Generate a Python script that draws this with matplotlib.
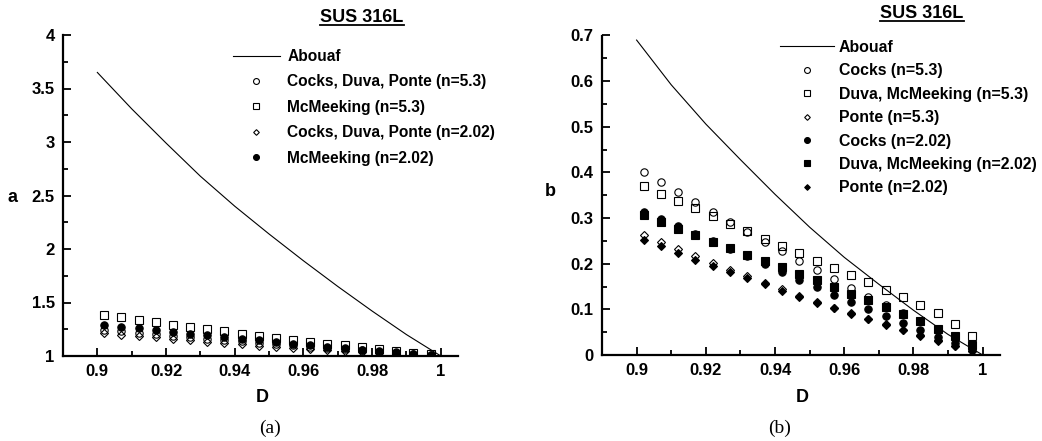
import numpy as np
import matplotlib.pyplot as plt
from matplotlib.lines import Line2D
from matplotlib.ticker import MultipleLocator, FuncFormatter

# relative density at the computed points
D = [0.902, 0.907, 0.912, 0.917, 0.922, 0.927, 0.932, 0.937, 0.942, 0.947,
     0.952, 0.957, 0.962, 0.967, 0.972, 0.977, 0.982, 0.987, 0.992, 0.997]
# relative density for the Abouaf curve
D_line = [0.90, 0.91, 0.92, 0.93, 0.94, 0.95, 0.96, 0.97, 0.98, 0.99, 1.00]

# (a) parameter a
a_abouaf = [3.65, 3.31, 2.99, 2.68, 2.40, 2.14, 1.89, 1.65, 1.42, 1.20, 1.00]
a_cdp53 = [1.245, 1.232, 1.218, 1.204, 1.190, 1.177, 1.163, 1.150, 1.137, 1.124,
           1.111, 1.099, 1.087, 1.075, 1.063, 1.052, 1.041, 1.030, 1.020, 1.010]
a_mcm53 = [1.385, 1.362, 1.338, 1.315, 1.293, 1.272, 1.251, 1.230, 1.210, 1.190,
           1.171, 1.152, 1.134, 1.116, 1.099, 1.082, 1.065, 1.048, 1.032, 1.016]
a_cdp202 = [1.212, 1.200, 1.187, 1.173, 1.160, 1.147, 1.134, 1.122, 1.110, 1.098,
            1.086, 1.075, 1.064, 1.054, 1.044, 1.035, 1.026, 1.017, 1.009, 1.002]
a_mcm202 = [1.292, 1.275, 1.259, 1.243, 1.226, 1.210, 1.194, 1.178, 1.162, 1.146,
            1.131, 1.116, 1.101, 1.087, 1.073, 1.060, 1.047, 1.035, 1.023, 1.011]

# (b) parameter b
b_abouaf = [0.690, 0.592, 0.506, 0.428, 0.352, 0.280, 0.214, 0.155, 0.098, 0.045, 0.0]
b_cocks53 = [0.402, 0.380, 0.357, 0.335, 0.313, 0.291, 0.269, 0.248, 0.227, 0.207,
             0.187, 0.167, 0.147, 0.128, 0.110, 0.092, 0.075, 0.058, 0.040, 0.021]
b_dm53 = [0.370, 0.353, 0.337, 0.321, 0.305, 0.288, 0.271, 0.255, 0.239, 0.223,
          0.207, 0.191, 0.175, 0.159, 0.143, 0.127, 0.110, 0.091, 0.069, 0.042]
b_ponte53 = [0.262, 0.247, 0.232, 0.217, 0.202, 0.187, 0.172, 0.158, 0.144, 0.130,
             0.117, 0.104, 0.091, 0.079, 0.067, 0.055, 0.043, 0.032, 0.020, 0.009]
b_cocks202 = [0.314, 0.298, 0.282, 0.266, 0.250, 0.233, 0.216, 0.199, 0.181, 0.164,
              0.148, 0.132, 0.116, 0.100, 0.085, 0.070, 0.055, 0.040, 0.026, 0.013]
b_dm202 = [0.307, 0.292, 0.277, 0.262, 0.248, 0.234, 0.220, 0.206, 0.192, 0.178,
           0.164, 0.149, 0.134, 0.120, 0.105, 0.090, 0.074, 0.058, 0.041, 0.022]
b_ponte202 = [0.252, 0.238, 0.223, 0.209, 0.196, 0.182, 0.168, 0.155, 0.141, 0.128,
              0.115, 0.103, 0.090, 0.078, 0.066, 0.054, 0.042, 0.031, 0.020, 0.008]

plt.rcParams['font.family'] = ['Liberation Sans', 'DejaVu Sans']
plt.rcParams['font.weight'] = 'bold'

W, H = 1042, 441
fig = plt.figure(figsize=(W / 100, H / 100), dpi=100)


def px(x, y):
    return x / W, 1 - y / H


def style(ax, ylim, ymaj, ymin):
    ax.set_xlim(0.89, 1.005)
    ax.set_ylim(*ylim)
    for s in ['top', 'right']:
        ax.spines[s].set_visible(False)
    for s in ['left', 'bottom']:
        ax.spines[s].set_linewidth(1.6)
    ax.xaxis.set_major_locator(MultipleLocator(0.02))
    ax.xaxis.set_minor_locator(MultipleLocator(0.01))
    ax.yaxis.set_major_locator(MultipleLocator(ymaj))
    ax.yaxis.set_minor_locator(MultipleLocator(ymin))
    fmt = FuncFormatter(lambda v, p: f'{v:g}')
    ax.xaxis.set_major_formatter(fmt)
    ax.yaxis.set_major_formatter(fmt)
    ax.tick_params(which='both', direction='in', width=1.3, labelsize=12, pad=6)
    ax.tick_params(which='major', length=6)
    ax.tick_params(which='minor', length=3.5)


def pts(ax, y, marker, filled, ms, label):
    ax.plot(D, y, linestyle='none', marker=marker, ms=ms, mew=0.8, mec='black',
            mfc='black' if filled else 'none', label=label)


# ---- (a)
ax1 = fig.add_axes([63 / W, 1 - 356 / H, 395 / W, 321 / H])
ax1.plot(D_line, a_abouaf, color='black', lw=0.8, label='Abouaf')
pts(ax1, a_cdp53, 'o', False, 5.3, 'Cocks, Duva, Ponte (n=5.3)')
pts(ax1, a_mcm53, 's', False, 5.3, 'McMeeking (n=5.3)')
pts(ax1, a_cdp202, 'D', False, 3.6, 'Cocks, Duva, Ponte (n=2.02)')
pts(ax1, a_mcm202, 'o', True, 5.3, 'McMeeking (n=2.02)')
style(ax1, (1, 4), 0.5, 0.25)
ax1.legend(loc='upper left', bbox_to_anchor=px(233, 49), bbox_transform=fig.transFigure,
           frameon=False, borderpad=0, borderaxespad=0, fontsize=11.2,
           handlelength=3.0, handletextpad=0.5, labelspacing=0.67, markerscale=0.8)

# ---- (b)
ax2 = fig.add_axes([602 / W, 1 - 355 / H, 398 / W, 319.5 / H])
ax2.plot(D_line, b_abouaf, color='black', lw=0.8, label='Abouaf')
pts(ax2, b_cocks53, 'o', False, 5.3, 'Cocks (n=5.3)')
pts(ax2, b_dm53, 's', False, 5.3, 'Duva, McMeeking (n=5.3)')
pts(ax2, b_ponte53, 'D', False, 3.6, 'Ponte (n=5.3)')
pts(ax2, b_cocks202, 'o', True, 5.3, 'Cocks (n=2.02)')
pts(ax2, b_dm202, 's', True, 5.3, 'Duva, McMeeking (n=2.02)')
pts(ax2, b_ponte202, 'D', True, 3.6, 'Ponte (n=2.02)')
style(ax2, (0, 0.7), 0.1, 0.05)
ax2.legend(loc='upper left', bbox_to_anchor=px(780, 40), bbox_transform=fig.transFigure,
           frameon=False, borderpad=0, borderaxespad=0, fontsize=11.4,
           handlelength=3.4, handletextpad=0.3, labelspacing=0.53, markerscale=0.8)

# axis labels and captions
fig.text(*px(12, 197), 'a', fontsize=13, ha='center', va='center')
fig.text(*px(550, 191), 'b', fontsize=13, ha='center', va='center')
fig.text(*px(262, 397), 'D', fontsize=13, ha='center', va='center')
fig.text(*px(802, 397), 'D', fontsize=13, ha='center', va='center')
fig.text(*px(270, 428), '(a)', fontsize=14, ha='center', va='center',
         family='Liberation Serif', weight='normal')
fig.text(*px(780, 428), '(b)', fontsize=14, ha='center', va='center',
         family='Liberation Serif', weight='normal')

# underlined titles
titles = [fig.text(*px(362, 17), 'SUS 316L', fontsize=13, ha='center', va='center'),
          fig.text(*px(922, 13), 'SUS 316L', fontsize=13, ha='center', va='center')]
fig.canvas.draw()
r = fig.canvas.get_renderer()
for t in titles:
    bb = t.get_window_extent(r)
    yl = bb.y0 + 1
    fig.add_artist(Line2D([bb.x0 / W, bb.x1 / W], [yl / H, yl / H], color='black',
                          lw=1.3, transform=fig.transFigure))

fig.savefig('out.png', dpi=100)
